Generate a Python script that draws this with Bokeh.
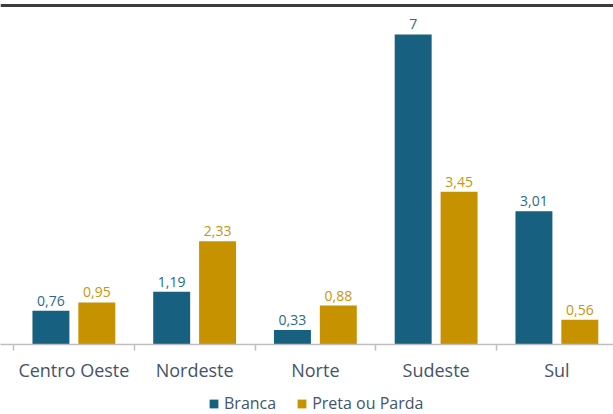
from bokeh.plotting import figure
from bokeh.layouts import column
from bokeh.models import (ColumnDataSource, Range1d, FixedTicker, Span, Legend, LegendItem)
from bokeh.core.properties import value
from bokeh.embed import file_html
from bokeh.resources import INLINE

regions = ["Centro Oeste", "Nordeste", "Norte", "Sudeste", "Sul"]
branca = [0.76, 1.19, 0.33, 7.0, 3.01]
preta_parda = [0.95, 2.33, 0.88, 3.45, 0.56]
series_names = ["Branca", "Preta ou Parda"]

BLUE = "#17607f"
GOLD = "#c69200"
BLUE_LBL = "#2b6a8a"
GOLD_LBL = "#c8950a"
TEXT = "#44546a"

def fmt(v):
    s = ("%.2f" % v).rstrip("0").rstrip(".")
    return s.replace(".", ",")

idx = list(range(len(regions)))
OFF = 0.19
W = 0.306
PX = 120.75  # pixels per category

src_b = ColumnDataSource(dict(x=[i + 0.5 - OFF for i in idx], top=branca,
                              lbl=[fmt(v) for v in branca]))
src_p = ColumnDataSource(dict(x=[i + 0.5 + OFF for i in idx], top=preta_parda,
                              lbl=[fmt(v) for v in preta_parda]))

p = figure(frame_width=613, frame_height=344,
           x_range=Range1d(-13 / PX, 600 / PX),
           y_range=Range1d(0, 344 / 44.3),
           output_backend="svg", toolbar_location=None,
           y_axis_location=None, min_border_left=0, min_border_right=0,
           min_border_top=0, min_border_bottom=46)
p.outline_line_color = None
p.xgrid.visible = False
p.ygrid.visible = False
p.background_fill_color = "white"

rb = p.vbar(x="x", top="top", width=W, source=src_b, fill_color=BLUE, line_color=None)
rp = p.vbar(x="x", top="top", width=W, source=src_p, fill_color=GOLD, line_color=None)

p.text(x="x", y="top", text="lbl", source=src_b, text_align="center",
       text_baseline="alphabetic", y_offset=-10, text_font=value("Open Sans"),
       text_font_size="14px", text_color=BLUE_LBL)
p.text(x="x", y="top", text="lbl", source=src_p, text_align="center",
       text_baseline="alphabetic", y_offset=-10, text_font=value("Open Sans"),
       text_font_size="14px", text_color=GOLD_LBL)

p.add_layout(Span(location=339 / 44.3, dimension="width", line_color="#3c3c3c", line_width=3))

ax = p.xaxis[0]
ax.ticker = FixedTicker(ticks=[i + 0.5 for i in idx], minor_ticks=list(range(len(regions) + 1)))
ax.major_label_overrides = {i + 0.5: r for i, r in zip(idx, regions)}
ax.major_tick_line_color = None
ax.major_tick_out = 0
ax.major_tick_in = 0
ax.minor_tick_line_color = "#bfbfbf"
ax.minor_tick_out = 6
ax.minor_tick_in = 0
ax.minor_tick_line_width = 1.5
ax.axis_line_color = "#bfbfbf"
ax.axis_line_width = 1.5
ax.major_label_standoff = 7
ax.major_label_text_font = "Open Sans"
ax.major_label_text_font_size = "18px"
ax.major_label_text_color = TEXT

# legend strip
pl = figure(width=613, height=24, x_range=Range1d(0, 1), y_range=Range1d(100, 101),
            output_backend="svg", toolbar_location=None,
            x_axis_location=None, y_axis_location=None,
            min_border_left=0, min_border_right=0, min_border_top=0, min_border_bottom=0)
pl.outline_line_color = None
pl.xgrid.visible = False
pl.ygrid.visible = False
lb = pl.vbar(x="x", top="top", width=W, source=src_b, fill_color=BLUE, line_color=None)
lp = pl.vbar(x="x", top="top", width=W, source=src_p, fill_color=GOLD, line_color=None)

legend = Legend(items=[LegendItem(label=series_names[0], renderers=[lb]),
                       LegendItem(label=series_names[1], renderers=[lp])],
                orientation="horizontal", location=(208, 0),
                label_text_font="Open Sans", label_text_font_size="16px",
                label_text_color=TEXT, glyph_width=11, glyph_height=11,
                label_standoff=5, spacing=20, padding=0, margin=0,
                border_line_color=None, background_fill_alpha=0)
pl.add_layout(legend)

layout = column(p, pl, spacing=0)
open("out.html", "w").write(file_html(layout, INLINE))
